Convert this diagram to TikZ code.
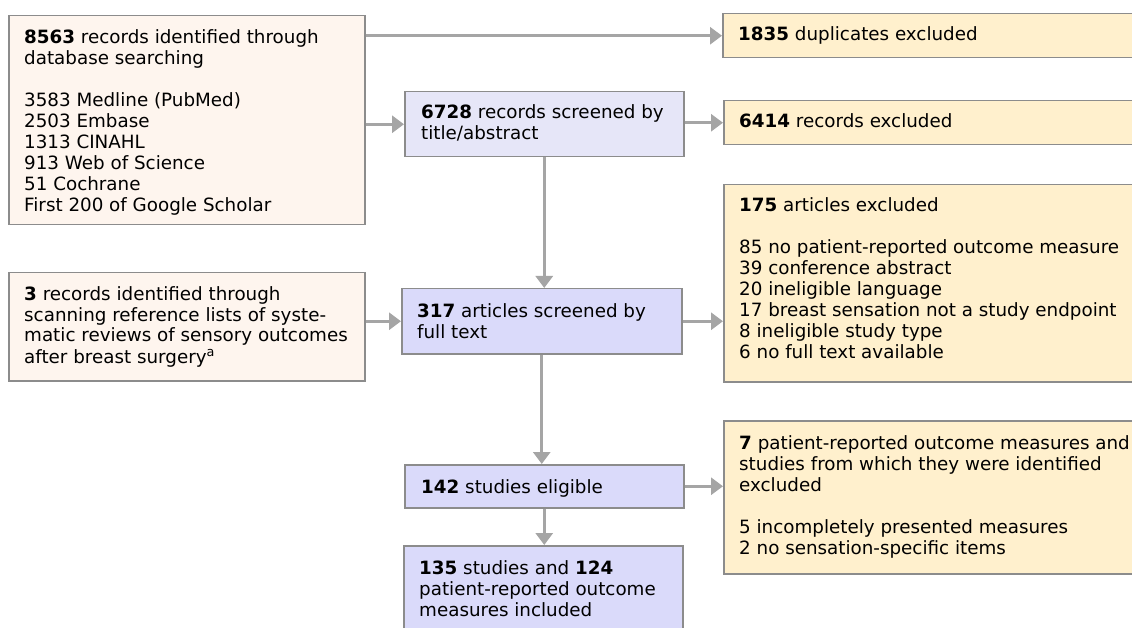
\documentclass[tikz,border=0pt]{standalone}
\usepackage{fontspec}
\setmainfont{DejaVu Sans}
\usetikzlibrary{arrows.meta,calc}
\definecolor{peach}{RGB}{254,245,238}
\definecolor{lav}{RGB}{218,218,250}
\definecolor{lavl}{RGB}{230,230,248}
\definecolor{sand}{RGB}{255,240,205}
\definecolor{bord}{RGB}{140,140,140}
\definecolor{arr}{RGB}{165,165,165}
\begin{document}
\begin{tikzpicture}[x=1pt,y=-1pt,
  box/.style={draw=bord,line width=1.5pt,inner sep=0pt,anchor=north west},
  txt/.style={anchor=base west,inner sep=0pt,font=\fontsize{18.3}{21}\selectfont},
  conn/.style={draw=arr,line width=3pt,-{Triangle[length=12pt,width=17pt]}}]
\useasboundingbox (0,0) rectangle (1132,628);
\clip (0,0) rectangle (1132,628);
\fill[white] (0,0) rectangle (1132,628);
% boxes
\node[box,fill=peach,minimum width=356pt,minimum height=209pt] (a) at (8,15) {};
\node[box,fill=peach,minimum width=356pt,minimum height=108pt] (b) at (8,272) {};
\node[box,fill=lavl,minimum width=279pt,minimum height=65pt] (s1) at (404,91) {};
\node[box,fill=lav,minimum width=280pt,minimum height=65pt] (s2) at (401,288) {};
\node[box,fill=lav,minimum width=279pt,minimum height=43pt] (s3) at (404,464) {};
\node[box,fill=lav,minimum width=279pt,minimum height=100pt] (s4) at (403,545) {};
\node[box,fill=sand,minimum width=430pt,minimum height=44pt] (e1) at (722,13) {};
\node[box,fill=sand,minimum width=430pt,minimum height=44pt] (e2) at (723,100) {};
\node[box,fill=sand,minimum width=430pt,minimum height=197pt] (e3) at (723,184) {};
\node[box,fill=sand,minimum width=430pt,minimum height=153pt] (e4) at (723,420) {};
% texts
\node[txt] (ta) at (24,44) {\parbox[t]{500pt}{\textbf{8563} records identified through\\database searching\\~\\3583 Medline (PubMed)\\2503 Embase\\1313 CINAHL\\913 Web of Science\\51 Cochrane\\First 200 of Google Scholar}};
\node[txt] (tb) at (24,300) {\parbox[t]{500pt}{\textbf{3} records identified through\\scanning reference lists of syste-\\matic reviews of sensory outcomes\\after breast surgery\textsuperscript{a}}};
\node[txt] (ts1) at (421,119) {\parbox[t]{500pt}{\textbf{6728} records screened by\\title/abstract}};
\node[txt] (ts2) at (417,317) {\parbox[t]{500pt}{\textbf{317} articles screened by\\full text}};
\node[txt] (ts3) at (421,493) {\parbox[t]{500pt}{\textbf{142} studies eligible}};
\node[txt] (ts4) at (419,574) {\parbox[t]{500pt}{\textbf{135} studies and \textbf{124}\\patient-reported outcome\\measures included}};
\node[txt] (te1) at (738,41) {\parbox[t]{500pt}{\textbf{1835} duplicates excluded}};
\node[txt] (te2) at (739,128) {\parbox[t]{500pt}{\textbf{6414} records excluded}};
\node[txt] (te3) at (739,212) {\parbox[t]{500pt}{\textbf{175} articles excluded\\~\\85 no patient-reported outcome measure\\39 conference abstract\\20 ineligible language\\17 breast sensation not a study endpoint\\8 ineligible study type\\6 no full text available}};
\node[txt] (te4) at (739,449) {\parbox[t]{500pt}{\textbf{7} patient-reported outcome measures and\\studies from which they were identified\\excluded\\~\\5 incompletely presented measures\\2 no sensation-specific items}};
% connectors
\draw[conn] (a.east |- e1.west) -- (e1.west);
\draw[conn] (a.east |- s1.west) -- (s1.west);
\draw[conn] (s1.east |- e2.west) -- (e2.west);
\draw[conn] (s1.south) -- (s1.south |- s2.north);
\draw[conn] (b.east |- s2.west) -- (s2.west);
\draw[conn] (s2.east) -- (s2.east -| e3.west);
\draw[conn] (s2.south) -- (s2.south |- s3.north);
\draw[conn] (s3.east) -- (s3.east -| e4.west);
\draw[conn] (s3.south) -- (s3.south |- s4.north);
\end{tikzpicture}
\end{document}
